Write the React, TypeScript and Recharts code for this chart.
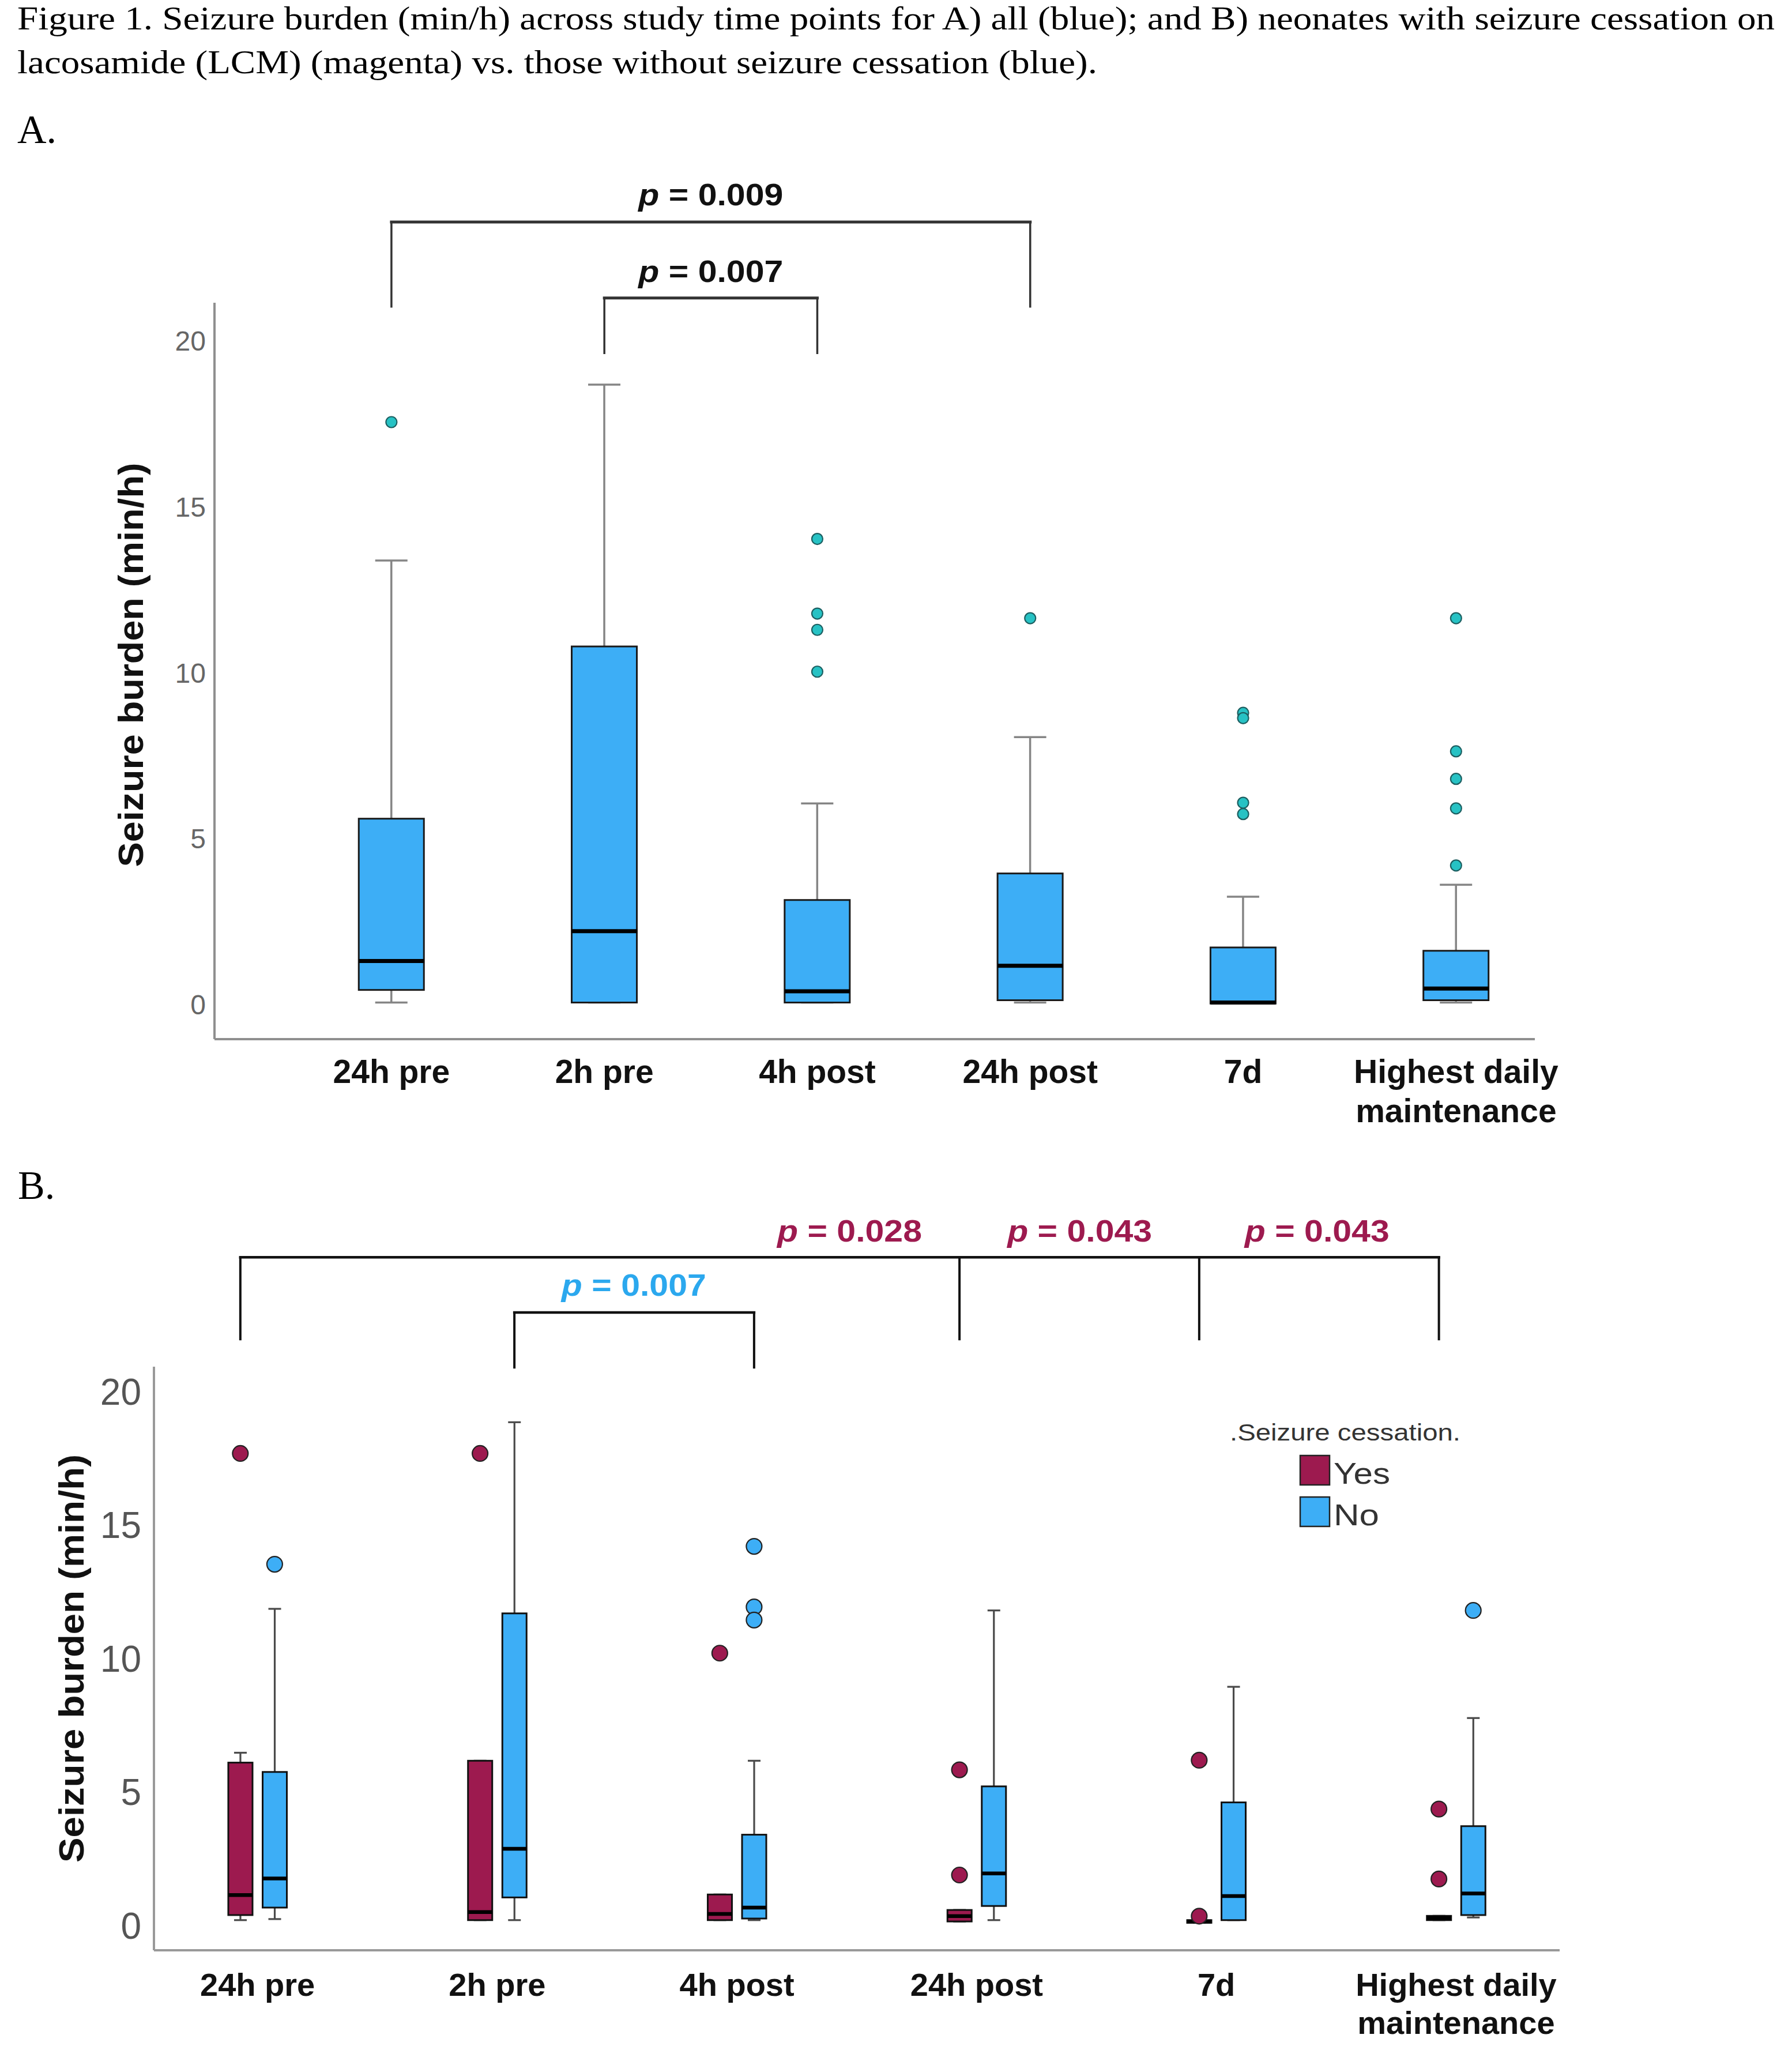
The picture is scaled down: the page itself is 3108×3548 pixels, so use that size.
import React from 'react';
import { ComposedChart, Bar, Scatter, XAxis, YAxis, ReferenceLine, ReferenceDot, Legend } from 'recharts';

const SANS = '"Liberation Sans", Arial, sans-serif';
const SERIF = '"Liberation Serif", "Times New Roman", serif';

// ---------- text ----------
const captionLines = [
  'Figure 1. Seizure burden (min/h) across study time points for A) all (blue); and B) neonates with seizure cessation on',
  'lacosamide (LCM) (magenta) vs. those without seizure cessation (blue).',
];
const panelLabels = ['A.', 'B.'];
const yAxisTitle = 'Seizure burden (min/h)';
const legendTitle = '.Seizure cessation.';
const groupNames = ['Yes', 'No'];

// ---------- categories & ticks ----------
const categories = ['24h pre', '2h pre', '4h post', '24h post', '7d', 'Highest daily maintenance'];
const xTicks = [0, 1, 2, 3, 4, 5];
const yTicks = [0, 5, 10, 15, 20];

// ---------- Panel A: all neonates ----------
const aLow = [0.06, 0.06, 0.06, 0.06, 0.03, 0.06];
const aQ1 = [0.44, 0.06, 0.06, 0.13, 0.03, 0.13];
const aMedian = [1.31, 2.21, 0.4, 1.17, 0.06, 0.48];
const aQ3 = [5.6, 10.79, 3.15, 3.95, 1.72, 1.62];
const aHigh = [13.38, 18.68, 6.06, 8.06, 3.25, 3.61];
const aOutliers = [[17.55], [], [14.03, 11.78, 11.29, 10.03], [11.64], [8.79, 8.63, 6.08, 5.74], [11.64, 7.63, 6.8, 5.91, 4.19]];

// ---------- Panel B: seizure cessation Yes ----------
const yesLow = [0.2, 0.2, 0.2, 0.15, 0.1, 0.2];
const yesQ1 = [0.39, 0.2, 0.2, 0.15, 0.1, 0.2];
const yesMedian = [1.14, 0.5, 0.43, 0.35, 0.15, 0.28];
const yesQ3 = [6.1, 6.17, 1.16, 0.58, 0.2, 0.36];
const yesHigh = [6.47, 6.17, 1.16, 0.58, 0.2, 0.36];
const yesOutliers = [[17.68], [17.68], [10.2], [5.83, 1.89], [6.19, 0.35], [4.36, 1.74]];

// ---------- Panel B: seizure cessation No ----------
const noLow = [0.24, 0.2, 0.2, 0.2, 0.2, 0.3];
const noQ1 = [0.67, 1.05, 0.26, 0.73, 0.2, 0.39];
const noMedian = [1.76, 2.87, 0.67, 1.95, 1.1, 1.2];
const noQ3 = [5.75, 11.69, 3.4, 5.21, 4.61, 3.72];
const noHigh = [11.86, 18.85, 6.17, 11.8, 8.94, 7.77];
const noOutliers = [[13.53], [], [14.2, 11.93, 11.44], [], [], [11.8]];

// ---------- significance annotations ----------
const bracketsA = [
  { legs: [0, 3], top: 23.58, bottom: 21.0 },
  { legs: [1, 2], top: 21.29, bottom: 19.6 },
];
const pLabelsA = [
  { x: 1.5, y: 24.08, p: '0.009' },
  { x: 1.5, y: 21.77, p: '0.007' },
];
const bracketsB = [
  { group: 'yes', legs: [0, 3, 4, 5], top: 25.03, bottom: 21.92 },
  { group: 'no', legs: [1, 2], top: 22.96, bottom: 20.86 },
];
const pLabelsB = [
  { x: 2.47, y: 25.62, p: '0.028', group: 'yes' },
  { x: 3.43, y: 25.62, p: '0.043', group: 'yes' },
  { x: 4.42, y: 25.62, p: '0.043', group: 'yes' },
  { x: 1.57, y: 23.59, p: '0.007', group: 'no' },
];

// ---------- styles ----------
const BLUE = '#3DAEF6';
const MAGENTA = '#9D1A4F';
const TEAL = '#27C2C4';
const P_BLUE = '#2BA8EE';

const A_X_DOMAIN: [number, number] = [-0.831, 5.37];
const A_Y_DOMAIN: [number, number] = [-1.043, 21.147];
const B_X_DOMAIN: [number, number] = [-0.432, 5.432];
const B_GROUP_SHIFT = 0.0716;
const B_YES_DOMAIN: [number, number] = [B_X_DOMAIN[0] + B_GROUP_SHIFT, B_X_DOMAIN[1] + B_GROUP_SHIFT];
const B_NO_DOMAIN: [number, number] = [B_X_DOMAIN[0] - B_GROUP_SHIFT, B_X_DOMAIN[1] - B_GROUP_SHIFT];
const B_Y_DOMAIN: [number, number] = [-0.929, 20.93];

// ---------- helpers ----------
const buildRows = (lo: number[], q1: number[], q3: number[], hi: number[]) =>
  categories.map((_, i) => ({ x: i, box: [q1[i], q3[i]], whisker: [lo[i], hi[i]] }));
const buildMedians = (med: number[]) => categories.map((_, i) => ({ x: i, y: med[i] }));
const buildOutliers = (outs: number[][]) => outs.flatMap((vals, i) => vals.map((v) => ({ x: i, y: v })));

const splitLabel = (label: string) => {
  if (label.length <= 14) return [label];
  const cut = label.lastIndexOf(' ');
  return [label.slice(0, cut), label.slice(cut + 1)];
};

const whiskerShape = (color: string, capHalf: number, sw: number) => (props: any) => {
  const { x, y, width, height } = props;
  if (x == null || y == null) return <g />;
  const cx = x + width / 2;
  return (
    <g>
      <line x1={cx} x2={cx} y1={y} y2={y + height} stroke={color} strokeWidth={sw} />
      <line x1={cx - capHalf} x2={cx + capHalf} y1={y} y2={y} stroke={color} strokeWidth={sw} />
      <line x1={cx - capHalf} x2={cx + capHalf} y1={y + height} y2={y + height} stroke={color} strokeWidth={sw} />
    </g>
  );
};

const boxShape = (fill: string, stroke: string, sw: number) => (props: any) => {
  const { x, y, width, height } = props;
  if (x == null || y == null) return <g />;
  return <rect x={x} y={y} width={width} height={Math.max(height, 0.5)} fill={fill} stroke={stroke} strokeWidth={sw} />;
};

const medianShape = (half: number, sw: number) => (props: any) => (
  <line x1={props.cx - half} x2={props.cx + half} y1={props.cy} y2={props.cy} stroke="#000" strokeWidth={sw} />
);

const dotShape = (r: number, fill: string, stroke: string, sw: number) => (props: any) => (
  <circle cx={props.cx} cy={props.cy} r={r} fill={fill} stroke={stroke} strokeWidth={sw} />
);

const pTextShape = (p: string, color: string, fontSize: number, len: number) => (props: any) => (
  <text
    x={props.cx}
    y={props.cy}
    textAnchor="middle"
    fontFamily={SANS}
    fontWeight="bold"
    fontSize={fontSize}
    fill={color}
    textLength={len}
    lengthAdjust="spacingAndGlyphs"
  >
    <tspan fontStyle="italic">p</tspan>
    {' = ' + p}
  </text>
);

const makeXTick = (fontSize: number, baseline: number, lineGap: number) => (props: any) => {
  const { x, y, payload } = props;
  const label = categories[payload.value] ?? '';
  const lines = splitLabel(label);
  return (
    <text x={x} y={y + baseline} textAnchor="middle" fontFamily={SANS} fontWeight="bold" fontSize={fontSize} fill="#111">
      {lines.map((l, k) => (
        <tspan key={k} x={x} dy={k === 0 ? 0 : lineGap}>
          {l}
        </tspan>
      ))}
    </text>
  );
};

const makeYLabel = (baselineX: number, dyCenter: number, fontSize: number, len: number) => (props: any) => {
  const vb = props.viewBox || { x: 0, y: 0, width: 0, height: 0 };
  const cx = vb.x + baselineX;
  const cy = vb.y + vb.height / 2 + dyCenter;
  return (
    <text
      x={cx}
      y={cy}
      transform={`rotate(-90, ${cx}, ${cy})`}
      textAnchor="middle"
      fontFamily={SANS}
      fontWeight="bold"
      fontSize={fontSize}
      fill="#111"
      textLength={len}
      lengthAdjust="spacingAndGlyphs"
    >
      {yAxisTitle}
    </text>
  );
};

// ---------- Panel A ----------
function PanelA() {
  const rows = buildRows(aLow, aQ1, aQ3, aHigh);
  const medians = buildMedians(aMedian);
  const outliers = buildOutliers(aOutliers);
  return (
    <ComposedChart width={2800} height={2000} data={rows} margin={{ top: 525, right: 138, bottom: 48, left: 0 }}>
      <XAxis
        xAxisId="main"
        type="number"
        dataKey="x"
        domain={A_X_DOMAIN}
        allowDataOverflow
        ticks={xTicks}
        interval={0}
        height={150}
        tickLine={false}
        tickSize={0}
        tickMargin={0}
        axisLine={{ stroke: '#8f8f8f', strokeWidth: 4 }}
        tick={makeXTick(57, 76, 68)}
      />
      <XAxis xAxisId="w" type="number" dataKey="x" domain={A_X_DOMAIN} allowDataOverflow ticks={xTicks} hide />
      <YAxis
        type="number"
        domain={A_Y_DOMAIN}
        allowDataOverflow
        ticks={yTicks}
        interval={0}
        width={372}
        tickLine={false}
        tickSize={0}
        tickMargin={15}
        axisLine={{ stroke: '#8f8f8f', strokeWidth: 4 }}
        tick={{ fill: '#666', fontSize: 48, fontFamily: SANS }}
        label={makeYLabel(248, -10.5, 62, 701)}
      />
      <Bar xAxisId="w" dataKey="whisker" barSize={113} isAnimationActive={false} shape={whiskerShape('#858585', 28, 3.5)} />
      <Bar xAxisId="main" dataKey="box" barSize={113} isAnimationActive={false} shape={boxShape(BLUE, '#1a1a1a', 3)} />
      <Scatter xAxisId="main" data={medians} dataKey="y" isAnimationActive={false} shape={medianShape(56.5, 7)} />
      <Scatter xAxisId="main" data={outliers} dataKey="y" isAnimationActive={false} shape={dotShape(9.5, TEAL, '#1d5f61', 2.2)} />
      {bracketsA.map((b, bi) => (
        <ReferenceLine
          key={`ah${bi}`}
          xAxisId="main"
          ifOverflow="visible"
          segment={[{ x: b.legs[0], y: b.top }, { x: b.legs[b.legs.length - 1], y: b.top }]}
          stroke="#333"
          strokeWidth={5}
          strokeLinecap="square"
        />
      ))}
      {bracketsA.flatMap((b, bi) =>
        b.legs.map((l, li) => (
          <ReferenceLine
            key={`al${bi}-${li}`}
            xAxisId="main"
            ifOverflow="visible"
            segment={[{ x: l, y: b.top }, { x: l, y: b.bottom }]}
            stroke="#333"
            strokeWidth={3.5}
          />
        ))
      )}
      {pLabelsA.map((p, pi) => (
        <ReferenceDot
          key={`ap${pi}`}
          xAxisId="main"
          x={p.x}
          y={p.y}
          r={0}
          ifOverflow="visible"
          shape={pTextShape(p.p, '#111', 54, 251)}
        />
      ))}
    </ComposedChart>
  );
}

// ---------- Panel B ----------
function PanelB() {
  const rows = categories.map((_, i) => ({
    x: i,
    yesBox: [yesQ1[i], yesQ3[i]],
    yesWhisker: [yesLow[i], yesHigh[i]],
    noBox: [noQ1[i], noQ3[i]],
    noWhisker: [noLow[i], noHigh[i]],
  }));
  const yesMed = buildMedians(yesMedian);
  const noMed = buildMedians(noMedian);
  const yesOut = buildOutliers(yesOutliers);
  const noOut = buildOutliers(noOutliers);
  const groupColor: Record<string, string> = { yes: MAGENTA, no: P_BLUE };

  const legendContent = () => (
    <svg width={440} height={230}>
      <text x={213} y={58} textAnchor="middle" fontFamily={SANS} fontSize={41} fill="#333" textLength={400} lengthAdjust="spacingAndGlyphs">
        {legendTitle}
      </text>
      <rect x={135} y={84} width={51} height={51} fill={MAGENTA} stroke="#222" strokeWidth={2.5} />
      <text x={193} y={133} fontFamily={SANS} fontSize={52} fill="#333" textLength={98} lengthAdjust="spacingAndGlyphs">
        {groupNames[0]}
      </text>
      <rect x={135} y={156} width={51} height={51} fill={BLUE} stroke="#222" strokeWidth={2.5} />
      <text x={193} y={205} fontFamily={SANS} fontSize={52} fill="#333" textLength={79} lengthAdjust="spacingAndGlyphs">
        {groupNames[1]}
      </text>
    </svg>
  );

  return (
    <ComposedChart width={2900} height={1548} data={rows} margin={{ top: 370, right: 195, bottom: 16, left: 0 }}>
      <XAxis
        xAxisId="main"
        type="number"
        dataKey="x"
        domain={B_X_DOMAIN}
        allowDataOverflow
        ticks={xTicks}
        interval={0}
        height={150}
        tickLine={false}
        tickSize={0}
        tickMargin={0}
        axisLine={{ stroke: '#999', strokeWidth: 4 }}
        tick={makeXTick(56, 79, 66)}
      />
      <XAxis xAxisId="yes" type="number" dataKey="x" domain={B_YES_DOMAIN} allowDataOverflow ticks={xTicks} hide />
      <XAxis xAxisId="yesW" type="number" dataKey="x" domain={B_YES_DOMAIN} allowDataOverflow ticks={xTicks} hide />
      <XAxis xAxisId="no" type="number" dataKey="x" domain={B_NO_DOMAIN} allowDataOverflow ticks={xTicks} hide />
      <XAxis xAxisId="noW" type="number" dataKey="x" domain={B_NO_DOMAIN} allowDataOverflow ticks={xTicks} hide />
      <YAxis
        type="number"
        domain={B_Y_DOMAIN}
        allowDataOverflow
        ticks={yTicks}
        interval={0}
        width={267}
        tickLine={false}
        tickSize={0}
        tickMargin={22}
        axisLine={{ stroke: '#999', strokeWidth: 4 }}
        tick={{ fill: '#555', fontSize: 64, fontFamily: SANS }}
        label={makeYLabel(145, 0, 62, 708)}
      />
      <Bar xAxisId="yesW" dataKey="yesWhisker" barSize={42} isAnimationActive={false} shape={whiskerShape('#4a4a4a', 11, 3.2)} />
      <Bar xAxisId="noW" dataKey="noWhisker" barSize={42} isAnimationActive={false} shape={whiskerShape('#4a4a4a', 11, 3.2)} />
      <Bar xAxisId="yes" dataKey="yesBox" barSize={42} isAnimationActive={false} shape={boxShape(MAGENTA, '#111', 3)} />
      <Bar xAxisId="no" dataKey="noBox" barSize={42} isAnimationActive={false} shape={boxShape(BLUE, '#111', 3)} />
      <Scatter xAxisId="yes" data={yesMed} dataKey="y" isAnimationActive={false} shape={medianShape(21, 6.5)} />
      <Scatter xAxisId="no" data={noMed} dataKey="y" isAnimationActive={false} shape={medianShape(21, 6.5)} />
      <Scatter xAxisId="yes" data={yesOut} dataKey="y" isAnimationActive={false} shape={dotShape(13.5, MAGENTA, '#222', 2.2)} />
      <Scatter xAxisId="no" data={noOut} dataKey="y" isAnimationActive={false} shape={dotShape(13.5, BLUE, '#222', 2.2)} />
      {bracketsB.map((b, bi) => (
        <ReferenceLine
          key={`bh${bi}`}
          xAxisId={b.group}
          ifOverflow="visible"
          segment={[{ x: b.legs[0], y: b.top }, { x: b.legs[b.legs.length - 1], y: b.top }]}
          stroke="#111"
          strokeWidth={4.5}
          strokeLinecap="square"
        />
      ))}
      {bracketsB.flatMap((b, bi) =>
        b.legs.map((l, li) => (
          <ReferenceLine
            key={`bl${bi}-${li}`}
            xAxisId={b.group}
            ifOverflow="visible"
            segment={[{ x: l, y: b.top }, { x: l, y: b.bottom }]}
            stroke="#111"
            strokeWidth={4}
          />
        ))
      )}
      {pLabelsB.map((p, pi) => (
        <ReferenceDot
          key={`bp${pi}`}
          xAxisId="main"
          x={p.x}
          y={p.y}
          r={0}
          ifOverflow="visible"
          shape={pTextShape(p.p, groupColor[p.group], 54, 251)}
        />
      ))}
      <Legend
        layout="vertical"
        align="center"
        verticalAlign="middle"
        content={legendContent}
        wrapperStyle={{ position: 'absolute', left: 2120, top: 440, width: 440, height: 230 }}
      />
    </ComposedChart>
  );
}

export default function App() {
  return (
    <div style={{ position: 'absolute', left: 0, top: 0, width: 3108, height: 3548, background: '#fff' }}>
      <svg style={{ position: 'absolute', left: 0, top: 0 }} width={3108} height={3548}>
        <text x={30} y={51} fontFamily={SERIF} fontSize={58} fill="#000" textLength={3048} lengthAdjust="spacingAndGlyphs">
          {captionLines[0]}
        </text>
        <text x={30} y={127} fontFamily={SERIF} fontSize={58} fill="#000" textLength={1873} lengthAdjust="spacingAndGlyphs">
          {captionLines[1]}
        </text>
        <text x={30} y={248} fontFamily={SERIF} fontSize={70} fill="#000">
          {panelLabels[0]}
        </text>
        <text x={31} y={2079} fontFamily={SERIF} fontSize={70} fill="#000">
          {panelLabels[1]}
        </text>
      </svg>
      <div style={{ position: 'absolute', left: 0, top: 0 }}>
        <PanelA />
      </div>
      <div style={{ position: 'absolute', left: 0, top: 2000 }}>
        <PanelB />
      </div>
    </div>
  );
}
